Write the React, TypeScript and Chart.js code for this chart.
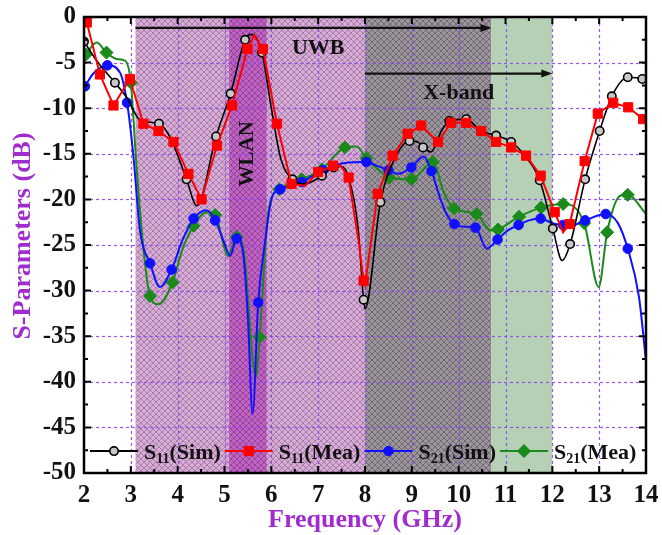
import React, { useEffect, useRef } from 'react';
import { Chart, registerables } from 'chart.js';

Chart.register(...registerables);

// ---------------- data ----------------
const xMin = 2, xMax = 14, xStep = 1;
const yMin = -50, yMax = 0, yStep = 5;

const uwbRange = [3.1, 10.7];
const xBandRange = [8, 12];
const wlanRange = [5.1, 5.9];
const uwbArrowDb = -1.2;
const xBandArrowDb = -6.2;

// S11 (Sim)
const s11SimFreq = [2.0, 2.3, 2.66, 2.91, 3.2, 3.6, 3.84, 4.19, 4.41, 4.82, 5.13, 5.44, 5.58, 5.8, 6.0, 6.2, 6.45, 6.72, 7.08, 7.33, 7.5, 7.65, 7.85, 7.97, 8.0, 8.33, 8.63, 8.95, 9.13, 9.24, 9.41, 9.63, 9.8, 10.16, 10.48, 10.8, 11.12, 11.41, 11.73, 12.01, 12.21, 12.38, 12.7, 13.01, 13.27, 13.61, 13.92, 14.0];
const s11SimDb = [-2.7, -5.0, -7.2, -8.8, -11.3, -11.7, -13.2, -17.8, -20.7, -13.1, -8.4, -2.5, -1.9, -3.9, -10.0, -15.5, -17.8, -18.3, -17.4, -16.5, -16.4, -17.6, -23.0, -31.0, -32.0, -20.3, -15.6, -13.6, -13.7, -14.3, -14.8, -12.5, -11.4, -11.2, -12.5, -13.0, -13.7, -15.2, -17.9, -23.2, -26.7, -24.9, -17.8, -12.5, -8.7, -6.6, -6.8, -7.2];
const s11SimMark = [1, 0, 1, 0, 0, 1, 0, 1, 0, 1, 1, 1, 0, 1, 0, 0, 1, 0, 1, 1, 0, 0, 0, 1, 0, 1, 0, 1, 0, 1, 0, 0, 1, 1, 0, 1, 1, 0, 1, 1, 0, 1, 1, 1, 1, 1, 1, 0];

// S11 (Mea)
const s11MeaFreq = [2.06, 2.34, 2.63, 2.98, 3.27, 3.59, 3.91, 4.23, 4.51, 4.84, 5.16, 5.49, 5.63, 5.82, 6.12, 6.43, 6.72, 7.0, 7.32, 7.48, 7.65, 7.86, 7.97, 8.0, 8.27, 8.59, 8.91, 9.2, 9.56, 9.84, 10.16, 10.48, 10.8, 11.12, 11.44, 11.75, 12.05, 12.23, 12.37, 12.69, 12.97, 13.3, 13.62, 13.94, 14.0];
const s11MeaDb = [-0.6, -6.3, -9.7, -6.8, -11.7, -12.5, -13.7, -17.2, -20.0, -14.1, -9.7, -3.5, -2.0, -3.5, -11.7, -18.3, -18.5, -17.0, -16.3, -16.3, -17.6, -24.5, -28.9, -29.4, -19.4, -15.2, -12.8, -11.9, -13.7, -11.6, -11.6, -12.5, -13.7, -14.3, -15.2, -17.4, -21.4, -23.6, -22.7, -15.8, -10.6, -9.4, -9.9, -11.2, -11.3];
const s11MeaMark = [1, 1, 1, 1, 1, 1, 1, 1, 1, 1, 1, 1, 0, 1, 1, 1, 0, 1, 1, 0, 1, 0, 1, 0, 1, 1, 1, 1, 1, 1, 1, 1, 1, 1, 1, 1, 1, 0, 1, 1, 1, 1, 1, 1, 0];

// S21 (Sim)
const s21SimFreq = [2.02, 2.2, 2.5, 2.77, 2.92, 3.05, 3.2, 3.41, 3.62, 3.87, 4.1, 4.34, 4.62, 4.8, 5.0, 5.12, 5.26, 5.4, 5.5, 5.6, 5.72, 5.87, 6.01, 6.19, 6.65, 7.1, 7.57, 8.03, 8.25, 8.5, 8.7, 8.99, 9.25, 9.42, 9.6, 9.74, 9.91, 10.15, 10.36, 10.6, 10.83, 11.05, 11.28, 11.5, 11.75, 12.0, 12.23, 12.45, 12.7, 13.14, 13.4, 13.61, 13.85, 14.0];
const s21SimDb = [-7.6, -6.2, -5.3, -6.1, -9.4, -15.0, -23.6, -27.0, -29.6, -27.7, -24.5, -22.1, -21.2, -22.3, -24.8, -26.2, -24.3, -26.0, -33.0, -43.5, -31.3, -24.5, -19.8, -18.9, -18.1, -16.8, -16.0, -15.9, -16.3, -16.8, -17.2, -16.5, -15.3, -16.9, -19.8, -21.6, -22.7, -23.0, -23.1, -25.4, -24.4, -23.4, -22.8, -22.3, -22.1, -22.6, -22.8, -22.8, -22.3, -21.6, -22.6, -25.4, -30.7, -37.7];
const s21SimMark = [1, 0, 1, 0, 1, 0, 0, 1, 0, 1, 0, 1, 0, 1, 0, 0, 1, 0, 0, 0, 1, 0, 0, 1, 1, 1, 0, 1, 0, 1, 0, 1, 0, 1, 0, 0, 1, 0, 1, 0, 1, 0, 1, 0, 1, 0, 1, 0, 1, 1, 0, 1, 0, 0];

// S21 (Mea)
const s21MeaFreq = [2.04, 2.27, 2.48, 2.7, 2.88, 3.0, 3.12, 3.3, 3.41, 3.59, 3.89, 4.1, 4.34, 4.62, 4.8, 5.08, 5.26, 5.4, 5.67, 5.75, 5.94, 6.17, 6.65, 7.08, 7.57, 7.82, 8.03, 8.27, 8.52, 8.99, 9.45, 9.68, 9.9, 10.38, 10.68, 10.84, 11.29, 11.76, 12.23, 12.68, 12.99, 13.17, 13.45, 13.61, 14.0];
const s21MeaDb = [-4.1, -2.8, -3.9, -4.6, -4.8, -7.2, -16.3, -26.9, -30.6, -31.5, -29.1, -25.5, -22.9, -21.4, -21.7, -26.2, -24.1, -25.3, -39.5, -35.1, -21.2, -18.9, -17.8, -16.7, -14.3, -14.2, -15.5, -16.7, -17.6, -17.8, -15.9, -19.2, -21.0, -21.6, -23.4, -23.3, -21.9, -20.9, -20.5, -22.6, -29.6, -23.6, -19.6, -19.5, -21.6];
const s21MeaMark = [1, 0, 1, 0, 0, 1, 0, 0, 1, 0, 1, 0, 1, 0, 1, 0, 1, 0, 0, 1, 0, 1, 1, 1, 1, 0, 1, 0, 1, 1, 1, 0, 1, 1, 0, 1, 1, 1, 1, 1, 0, 1, 0, 1, 0];

const legendMain = ['S', 'S', 'S', 'S'];
const legendSub = ['11', '11', '21', '21'];
const legendRest = ['(Sim)', '(Mea)', '(Sim)', '(Mea)'];

const xTitle = 'Frequency (GHz)';
const yTitle = 'S-Parameters (dB)';

// ---------------- styles ----------------
const FONT = '"Liberation Serif", "Times New Roman", serif';
const titleColor = '#a02ccf';
const gridColor = 'rgba(140, 70, 240, 0.9)';

type Series = { color: string; fill: string; border: string; style: string; radius: number; width: number; mono: boolean };
const seriesStyle: Series[] = [
  { color: '#000000', fill: '#c8c8c8', border: '#000000', style: 'circle', radius: 4.2, width: 1.6, mono: true },
  { color: '#ff0000', fill: '#ff0000', border: '#ff0000', style: 'rect', radius: 6.5, width: 2, mono: false },
  { color: '#1010ff', fill: '#1010ff', border: '#1010ff', style: 'circle', radius: 4.8, width: 2, mono: true },
  { color: '#1a8a1a', fill: '#1a8a1a', border: '#1a8a1a', style: 'rectRot', radius: 6.5, width: 2, mono: true },
];

function toPoints(f: number[], d: number[]) {
  return f.map((v, i) => ({ x: v, y: d[i] }));
}

function makePattern(ctx: CanvasRenderingContext2D, base: string, line: string, size = 6) {
  const c = document.createElement('canvas');
  c.width = size;
  c.height = size;
  const g = c.getContext('2d')!;
  g.fillStyle = base;
  g.fillRect(0, 0, size, size);
  g.strokeStyle = line;
  g.lineWidth = 1;
  g.beginPath();
  g.moveTo(0, 0);
  g.lineTo(size, size);
  g.moveTo(size, 0);
  g.lineTo(0, size);
  g.stroke();
  return ctx.createPattern(c, 'repeat')!;
}

function drawMarker(ctx: CanvasRenderingContext2D, s: Series, x: number, y: number) {
  ctx.save();
  ctx.fillStyle = s.fill;
  ctx.strokeStyle = s.border;
  ctx.lineWidth = s.style === 'circle' && s.fill !== s.border ? 1.6 : 1;
  ctx.beginPath();
  if (s.style === 'circle') {
    ctx.arc(x, y, s.radius, 0, Math.PI * 2);
  } else if (s.style === 'rect') {
    const h = s.radius * Math.SQRT1_2;
    ctx.rect(x - h, y - h, 2 * h, 2 * h);
  } else {
    ctx.moveTo(x, y - s.radius);
    ctx.lineTo(x + s.radius, y);
    ctx.lineTo(x, y + s.radius);
    ctx.lineTo(x - s.radius, y);
    ctx.closePath();
  }
  ctx.fill();
  ctx.stroke();
  ctx.restore();
}

function arrow(ctx: CanvasRenderingContext2D, x0: number, x1: number, y: number) {
  ctx.beginPath();
  ctx.moveTo(x0, y);
  ctx.lineTo(x1 - 4, y);
  ctx.stroke();
  ctx.beginPath();
  ctx.moveTo(x1, y);
  ctx.lineTo(x1 - 11, y - 4);
  ctx.lineTo(x1 - 11, y + 4);
  ctx.closePath();
  ctx.fill();
}

export default function App() {
  const ref = useRef<HTMLCanvasElement | null>(null);

  useEffect(() => {
    document.body.style.margin = '0';
    const canvas = ref.current!;
    const ctx0 = canvas.getContext('2d')!;
    const pinkPat = makePattern(ctx0, '#d6acd6', '#a97ea9');
    const wlanPat = makePattern(ctx0, '#bf62c2', '#94449a');
    const grayPat = makePattern(ctx0, '#9d959d', '#716a72');
    const greenFill = '#b6d0b5';

    const bandPlugin = {
      id: 'bands',
      beforeDatasetsDraw(chart: any) {
        const { ctx, chartArea: a, scales } = chart;
        const x = scales.x, y = scales.y;
        ctx.save();
        const fillBand = (f0: number, f1: number, style: any) => {
          const p0 = x.getPixelForValue(f0), p1 = x.getPixelForValue(f1);
          ctx.fillStyle = style;
          ctx.fillRect(p0, a.top, p1 - p0, a.bottom - a.top);
        };
        fillBand(uwbRange[0], xBandRange[0], pinkPat);
        fillBand(xBandRange[0], uwbRange[1], grayPat);
        fillBand(uwbRange[1], xBandRange[1], greenFill);
        fillBand(wlanRange[0], wlanRange[1], wlanPat);

        ctx.strokeStyle = gridColor;
        ctx.lineWidth = 1.2;
        ctx.setLineDash([3, 3]);
        for (let v = xMin + xStep; v < xMax - 1e-9; v += xStep) {
          const p = Math.round(x.getPixelForValue(v)) + 0.5;
          ctx.beginPath();
          ctx.moveTo(p, a.top);
          ctx.lineTo(p, a.bottom);
          ctx.stroke();
        }
        for (let v = yMin + yStep; v < yMax - 1e-9; v += yStep) {
          const p = Math.round(y.getPixelForValue(v)) + 0.5;
          ctx.beginPath();
          ctx.moveTo(a.left, p);
          ctx.lineTo(a.right, p);
          ctx.stroke();
        }
        ctx.restore();
      },
      afterDatasetsDraw(chart: any) {
        const { ctx, chartArea: a, scales } = chart;
        const x = scales.x, y = scales.y;
        ctx.save();
        // arrows
        ctx.strokeStyle = '#111';
        ctx.fillStyle = '#111';
        ctx.lineWidth = 2.2;
        arrow(ctx, x.getPixelForValue(uwbRange[0]), x.getPixelForValue(uwbRange[1]), y.getPixelForValue(uwbArrowDb));
        arrow(ctx, x.getPixelForValue(xBandRange[0]), x.getPixelForValue(xBandRange[1]), y.getPixelForValue(xBandArrowDb));

        // band labels
        ctx.fillStyle = '#111';
        ctx.textAlign = 'center';
        ctx.textBaseline = 'middle';
        ctx.font = `bold 22px ${FONT}`;
        ctx.fillText('UWB', x.getPixelForValue(7.0), y.getPixelForValue(-3.4));
        ctx.fillText('X-band', x.getPixelForValue(10.0), y.getPixelForValue(-8.4));
        ctx.save();
        ctx.translate(x.getPixelForValue((wlanRange[0] + wlanRange[1]) / 2), y.getPixelForValue(-15.0));
        ctx.rotate(-Math.PI / 2);
        ctx.font = `bold 21px ${FONT}`;
        ctx.fillText('WLAN', 0, 0);
        ctx.restore();

        // legend
        const ly = y.getPixelForValue(-47.6);
        let lx = a.left + 6;
        const order = [0, 1, 2, 3];
        for (const i of order) {
          const s = seriesStyle[i];
          ctx.strokeStyle = s.color;
          ctx.lineWidth = 2;
          ctx.beginPath();
          ctx.moveTo(lx, ly);
          ctx.lineTo(lx + 48, ly);
          ctx.stroke();
          drawMarker(ctx, s, lx + 24, ly);
          let tx = lx + 54;
          ctx.fillStyle = '#111';
          ctx.textAlign = 'left';
          ctx.textBaseline = 'alphabetic';
          ctx.font = `bold 22px ${FONT}`;
          ctx.fillText(legendMain[i], tx, ly + 8);
          tx += ctx.measureText(legendMain[i]).width;
          ctx.font = `bold 14px ${FONT}`;
          ctx.fillText(legendSub[i], tx, ly + 12);
          tx += ctx.measureText(legendSub[i]).width;
          ctx.font = `bold 22px ${FONT}`;
          ctx.fillText(legendRest[i], tx, ly + 8);
          tx += ctx.measureText(legendRest[i]).width;
          lx = tx + 4;
        }

        // frame and ticks
        ctx.strokeStyle = '#000';
        ctx.lineWidth = 2.5;
        ctx.strokeRect(a.left, a.top, a.right - a.left, a.bottom - a.top);
        ctx.lineWidth = 2;
        for (let k = 0; k <= (xMax - xMin) * 2; k++) {
          const v = xMin + k * xStep / 2;
          const p = x.getPixelForValue(v);
          const len = k % 2 === 0 ? 7 : 4;
          ctx.beginPath();
          ctx.moveTo(p, a.bottom);
          ctx.lineTo(p, a.bottom - len);
          ctx.moveTo(p, a.top);
          ctx.lineTo(p, a.top + len);
          ctx.stroke();
        }
        for (let k = 0; k <= ((yMax - yMin) / yStep) * 2; k++) {
          const v = yMin + k * yStep / 2;
          const p = y.getPixelForValue(v);
          const len = k % 2 === 0 ? 7 : 4;
          ctx.beginPath();
          ctx.moveTo(a.left, p);
          ctx.lineTo(a.left + len, p);
          ctx.moveTo(a.right, p);
          ctx.lineTo(a.right - len, p);
          ctx.stroke();
        }
        ctx.restore();
      },
      afterDraw(chart: any) {
        const { ctx, chartArea: a } = chart;
        ctx.save();
        ctx.fillStyle = titleColor;
        ctx.font = `bold 26px ${FONT}`;
        ctx.textAlign = 'center';
        ctx.textBaseline = 'middle';
        ctx.fillText(xTitle, (a.left + a.right) / 2, 520);
        ctx.translate(23, 236);
        ctx.rotate(-Math.PI / 2);
        ctx.fillText(yTitle, 0, 0);
        ctx.restore();
      },
    };

    const sets = [
      { f: s11MeaFreq, d: s11MeaDb, m: s11MeaMark, s: seriesStyle[1] },
      { f: s11SimFreq, d: s11SimDb, m: s11SimMark, s: seriesStyle[0] },
      { f: s21SimFreq, d: s21SimDb, m: s21SimMark, s: seriesStyle[2] },
      { f: s21MeaFreq, d: s21MeaDb, m: s21MeaMark, s: seriesStyle[3] },
    ];

    const chart = new Chart(canvas, {
      type: 'scatter',
      data: {
        datasets: sets.map((e) => ({
          data: toPoints(e.f, e.d),
          showLine: true,
          borderColor: e.s.color,
          borderWidth: e.s.width,
          backgroundColor: e.s.fill,
          pointBackgroundColor: e.s.fill,
          pointBorderColor: e.s.border,
          pointBorderWidth: e.s.fill !== e.s.border ? 1.6 : 1,
          pointStyle: e.s.style as any,
          pointRadius: (c: any) => (e.m[c.dataIndex] ? e.s.radius : 0),
          pointHoverRadius: 0,
          tension: e.s.mono ? 0.4 : 0,
          cubicInterpolationMode: e.s.mono ? ('monotone' as const) : ('default' as const),
        })),
      },
      options: {
        responsive: false,
        animation: false,
        devicePixelRatio: 1,
        layout: { padding: { top: 17, right: 16, left: 0, bottom: 0 } },
        plugins: { legend: { display: false }, tooltip: { enabled: false } },
        events: [],
        scales: {
          x: {
            type: 'linear',
            min: xMin,
            max: xMax,
            grid: { display: false },
            border: { display: false },
            ticks: {
              stepSize: xStep,
              autoSkip: false,
              maxRotation: 0,
              padding: 0,
              color: '#111',
              font: { family: FONT, size: 25, weight: 'bold' },
            },
            afterFit: (s: any) => {
              s.height = 62;
            },
          },
          y: {
            type: 'linear',
            min: yMin,
            max: yMax,
            grid: { display: false },
            border: { display: false },
            ticks: {
              stepSize: yStep,
              padding: 0,
              color: '#111',
              font: { family: FONT, size: 25, weight: 'bold' },
            },
            afterFit: (s: any) => {
              s.width = 84;
            },
          },
        },
      },
      plugins: [bandPlugin],
    });
    return () => chart.destroy();
  }, []);

  return (
    <div style={{ position: 'absolute', left: 0, top: 0, width: 662, height: 535, background: '#fff' }}>
      <canvas ref={ref} width={662} height={535} style={{ display: 'block' }} />
    </div>
  );
}
